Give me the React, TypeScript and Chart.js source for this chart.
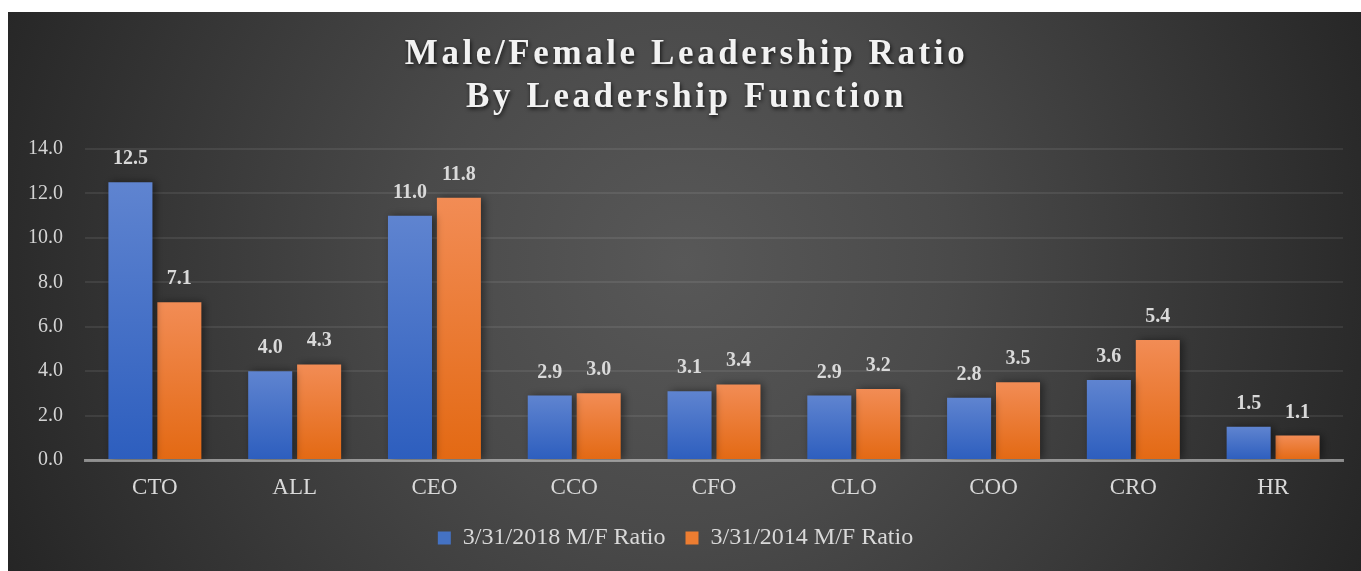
import React, { useEffect, useRef } from "react";
import { Chart, registerables } from "chart.js";

Chart.register(...registerables);

const categories = ["CTO", "ALL", "CEO", "CCO", "CFO", "CLO", "COO", "CRO", "HR"];
const ratio2018 = [12.5, 4.0, 11.0, 2.9, 3.1, 2.9, 2.8, 3.6, 1.5];
const ratio2014 = [7.1, 4.3, 11.8, 3.0, 3.4, 3.2, 3.5, 5.4, 1.1];
const seriesLabels = ["3/31/2018 M/F Ratio", "3/31/2014 M/F Ratio"];
const titleLines = ["Male/Female Leadership Ratio", "By Leadership Function"];
const yMin = 0;
const yMax = 14;
const yStep = 2;

const SERIF = "'Liberation Serif', 'DejaVu Serif', serif";

const barGradient = (top: string, bottom: string) => (ctx: any) => {
  const chart = ctx.chart;
  const y = chart.scales && chart.scales.y;
  if (!y || ctx.type !== "data") return top;
  const v = ctx.parsed ? ctx.parsed.y : ctx.raw;
  const yTop = y.getPixelForValue(v);
  const yBot = y.getPixelForValue(0);
  if (!isFinite(yTop) || !isFinite(yBot) || yTop === yBot) return top;
  const g = chart.ctx.createLinearGradient(0, yTop, 0, yBot);
  g.addColorStop(0, top);
  g.addColorStop(1, bottom);
  return g;
};

const solidColors = ["#4472c4", "#ed7d31"];

const decorPlugin = {
  id: "decor",
  beforeDraw(chart: any) {
    const { ctx, width, height } = chart;
    ctx.save();
    const g = ctx.createRadialGradient(676, 250, 0, 676, 250, 760);
    g.addColorStop(0, "#585858");
    g.addColorStop(0.35, "#4a4a4a");
    g.addColorStop(1, "#242424");
    ctx.fillStyle = g;
    ctx.fillRect(0, 0, width, height);

    ctx.font = `bold 35px ${SERIF}`;
    (ctx as any).letterSpacing = "3.6px";
    ctx.textAlign = "center";
    ctx.textBaseline = "alphabetic";
    ctx.fillStyle = "#f2f2f2";
    ctx.shadowColor = "rgba(0,0,0,0.75)";
    ctx.shadowBlur = 4;
    ctx.shadowOffsetX = 1;
    ctx.shadowOffsetY = 2;
    ctx.fillText(titleLines[0], width / 2 + 2, 52);
    ctx.fillText(titleLines[1], width / 2 + 2, 95);
    ctx.restore();
  },
  beforeDatasetsDraw(chart: any) {
    const ctx = chart.ctx;
    ctx.save();
    ctx.shadowColor = "rgba(0,0,0,0.45)";
    ctx.shadowBlur = 8;
    ctx.shadowOffsetX = 3;
    ctx.shadowOffsetY = 0;
  },
  afterDatasetsDraw(chart: any) {
    const ctx = chart.ctx;
    ctx.restore();
    ctx.save();
    ctx.font = `bold 20px ${SERIF}`;
    ctx.fillStyle = "#d9d9d9";
    ctx.textAlign = "center";
    ctx.textBaseline = "alphabetic";
    chart.data.datasets.forEach((ds: any, i: number) => {
      const meta = chart.getDatasetMeta(i);
      meta.data.forEach((bar: any, j: number) => {
        const v = ds.data[j];
        ctx.fillText(Number(v).toFixed(1), bar.x, bar.y - 18);
      });
    });
    ctx.restore();
  },
};

export default function App() {
  const ref = useRef<HTMLCanvasElement | null>(null);

  useEffect(() => {
    if (!ref.current) return;
    const chart = new Chart(ref.current, {
      type: "bar",
      data: {
        labels: categories,
        datasets: [
          {
            label: seriesLabels[0],
            data: ratio2018,
            backgroundColor: barGradient("#5f84d0", "#2d5ebe"),
            borderWidth: 0,
            categoryPercentage: 0.7,
            barPercentage: 0.9,
          },
          {
            label: seriesLabels[1],
            data: ratio2014,
            backgroundColor: barGradient("#f28c55", "#e36913"),
            borderWidth: 0,
            categoryPercentage: 0.7,
            barPercentage: 0.9,
          },
        ],
      },
      options: {
        animation: false,
        responsive: true,
        maintainAspectRatio: false,
        devicePixelRatio: 1,
        layout: { padding: { top: 137, right: 18, left: 0, bottom: 11 } },
        scales: {
          x: {
            z: 1,
            grid: { display: false, drawTicks: false },
            border: { display: true, color: "rgba(200,200,200,0.6)", width: 3 },
            ticks: {
              color: "#d9d9d9",
              font: { family: SERIF, size: 23 },
              padding: 14,
            },
            afterFit: (s: any) => {
              s.height = 46;
            },
          },
          y: {
            min: yMin,
            max: yMax,
            grid: { color: "rgba(255,255,255,0.08)", lineWidth: 2, drawTicks: false },
            border: { display: false },
            ticks: {
              stepSize: yStep,
              color: "#d4d4d4",
              font: { family: SERIF, size: 20 },
              padding: 22,
              callback: (v: any) => Number(v).toFixed(1),
            },
            afterFit: (s: any) => {
              s.width = 77;
            },
          },
        },
        plugins: {
          title: { display: false },
          tooltip: { enabled: false },
          legend: {
            display: true,
            position: "bottom",
            labels: {
              color: "#d9d9d9",
              font: { family: SERIF, size: 24 },
              boxWidth: 13,
              boxHeight: 13,
              padding: 20,
              generateLabels: (c: any) => {
                const items = Chart.defaults.plugins.legend.labels.generateLabels(c);
                return items.map((it: any, i: number) => ({
                  ...it,
                  fillStyle: solidColors[i],
                  strokeStyle: solidColors[i],
                  lineWidth: 0,
                }));
              },
            },
          },
        },
      },
      plugins: [decorPlugin],
    } as any);
    return () => chart.destroy();
  }, []);

  return (
    <div style={{ position: "fixed", left: 8, top: 12, width: 1353, height: 559 }}>
      <canvas ref={ref} />
    </div>
  );
}
